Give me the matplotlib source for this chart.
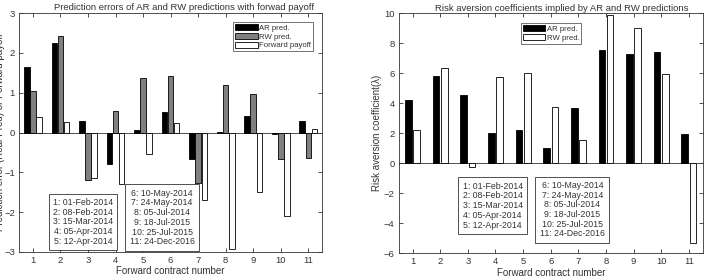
import numpy as np
import matplotlib
matplotlib.use("Agg")
import matplotlib.pyplot as plt

contracts = np.arange(1, 12)

# left panel: prediction errors (Real - Pred) and forward payoff
err_ar = [1.65, 2.25, 0.28, -0.78, 0.06, 0.52, -0.67, 0.01, 0.41, -0.03, 0.29]
err_rw = [1.05, 2.42, -1.20, 0.53, 1.37, 1.43, -1.27, 1.19, 0.96, -0.67, -0.64]
fwd_payoff = [0.40, 0.27, -1.15, -1.30, -0.55, 0.25, -1.70, -2.93, -1.50, -2.10, 0.09]

# right panel: implied risk aversion coefficients
ra_ar = [4.20, 5.80, 4.55, 2.00, 2.20, 1.00, 3.70, 7.55, 7.30, 7.40, 1.95]
ra_rw = [2.20, 6.35, -0.25, 5.75, 6.00, 3.75, 1.55, 9.90, 9.05, 5.95, -5.30]

dates_a = ["1: 01-Feb-2014", "2: 08-Feb-2014", "3: 15-Mar-2014",
           "4: 05-Apr-2014", "5: 12-Apr-2014"]
dates_b = ["6: 10-May-2014", "7: 24-May-2014", "8: 05-Jul-2014",
           "9: 18-Jul-2015", "10: 25-Jul-2015", "11: 24-Dec-2016"]

INK = "#333333"
plt.rcParams.update({"font.family": ["Liberation Sans", "DejaVu Sans"], "font.size": 6.5,
                     "axes.edgecolor": INK, "xtick.color": INK, "ytick.color": INK,
                     "text.color": INK, "axes.labelcolor": INK,
                     "axes.linewidth": 0.6})

fig = plt.figure(figsize=(7.07, 2.79), dpi=100)
ax1 = fig.add_axes([0.027, 0.097, 0.4286, 0.856])
ax2 = fig.add_axes([0.564, 0.093, 0.430, 0.859])

def style(ax, ylim, yticks):
    ax.set_xlim(0.5, 11.5)
    ax.set_ylim(*ylim)
    ax.set_xticks(contracts)
    ax.set_yticks(yticks)
    ax.tick_params(direction="in", length=3, width=0.6, top=True, right=True,
                   labelsize=6.8, pad=3)
    ax.axhline(0, color=INK, lw=0.6, zorder=2)
    ax.set_xlabel("Forward contract number", fontsize=7, labelpad=1)

edge = dict(edgecolor="black", linewidth=0.6, zorder=3)
legkw = dict(fontsize=5.6, frameon=True, fancybox=False, edgecolor=INK,
             handlelength=2.9, handleheight=0.8, handletextpad=0.2,
             borderpad=0.25, labelspacing=0.15, borderaxespad=0)

# left panel
w = 0.2
ax1.bar(contracts - 0.222, err_ar, w, color="black", label="AR pred.", **edge)
ax1.bar(contracts, err_rw, w, color="#808080", label="RW pred.", **edge)
ax1.bar(contracts + 0.222, fwd_payoff, w, color="white", label="Forward payoff", **edge)
style(ax1, (-3, 3), range(-3, 4))
ax1.set_title("Prediction errors of AR and RW predictions with forwad payoff",
              fontsize=6.8, pad=2, x=0.545)
# the original figure crops this label at the left edge
ax1.set_ylabel("Prediction error (Real-Pred) or Forward payoff", fontsize=7)
ax1.yaxis.set_label_coords(-0.047, 0.5)
leg = ax1.legend(loc="upper right", bbox_to_anchor=(0.97, 0.962), **legkw)
leg.get_frame().set_linewidth(0.6)

box = dict(boxstyle="square,pad=0.5", facecolor="white", edgecolor=INK, linewidth=0.6)
txt = dict(ha="center", va="center", multialignment="center", fontsize=6.3,
           linespacing=1.1, bbox=box)
ax1.text(0.211, 0.126, "\n".join(dates_a), transform=ax1.transAxes, **txt)
ax1.text(0.472, 0.144, "\n".join(dates_b), transform=ax1.transAxes, **txt)

# right panel
w2 = 0.24
ax2.bar(contracts - 0.15, ra_ar, w2, color="black", label="AR pred.", **edge)
ax2.bar(contracts + 0.15, ra_rw, w2, color="white", label="RW pred.", **edge)
style(ax2, (-6, 10), range(-6, 11, 2))
ax2.set_title("Risk aversion coefficients implied by AR and RW predictions",
              fontsize=6.8, pad=2, x=0.535)
ax2.set_ylabel("Risk aversion coefficient(λ)", fontsize=7, labelpad=1.5)
leg2 = ax2.legend(loc="upper left", bbox_to_anchor=(0.401, 0.958), **legkw)
leg2.get_frame().set_linewidth(0.6)
ax2.text(0.309, 0.198, "\n".join(dates_a), transform=ax2.transAxes, **txt)
ax2.text(0.571, 0.181, "\n".join(dates_b), transform=ax2.transAxes, **txt)

fig.savefig("out.png", dpi=100, facecolor="white")
